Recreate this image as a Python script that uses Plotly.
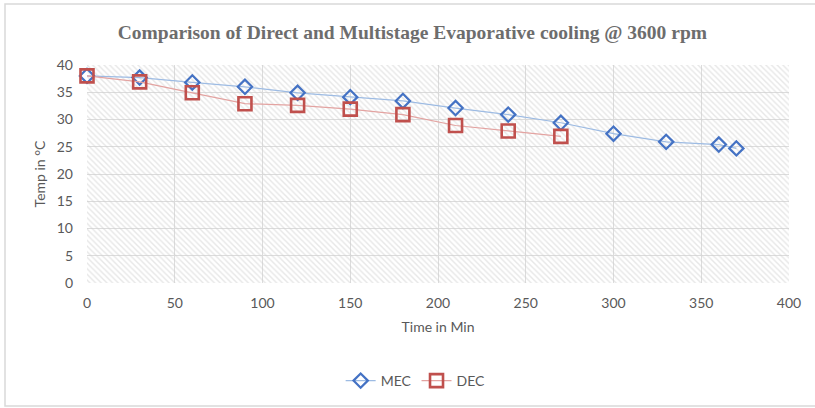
import plotly.graph_objects as go

# Time (min) and temperature (°C) readings
mec_time = [0, 30, 60, 90, 120, 150, 180, 210, 240, 270, 300, 330, 360, 370]
mec_temp = [38, 37.7, 36.8, 36.0, 34.9, 34.1, 33.4, 32.1, 30.9, 29.4, 27.4, 25.9, 25.4, 24.7]

dec_time = [0, 30, 60, 90, 120, 150, 180, 210, 240, 270]
dec_temp = [38, 36.9, 34.9, 32.9, 32.6, 31.9, 30.9, 28.9, 27.9, 26.9]

x_range = [0, 400]
y_range = [0, 40]

W, H = 815, 408
ML, MR, MT, MB = 87, 26, 65, 125
pw = W - ML - MR
ph = H - MT - MB


def px_to_paper_x(px):
    return (px - ML) / pw


def px_to_paper_y(py):
    return (H - MB - py) / ph


fig = go.Figure()

# hatched plot-area background
fig.add_trace(go.Scatter(
    x=[x_range[0], x_range[1], x_range[1], x_range[0], x_range[0]],
    y=[y_range[0], y_range[0], y_range[1], y_range[1], y_range[0]],
    mode="lines", fill="toself", line=dict(width=0),
    fillcolor="rgba(0,0,0,0)",
    fillpattern=dict(shape="\\", fgcolor="#cfcfcf", bgcolor="rgba(0,0,0,0)",
                     size=4, solidity=0.35),
    hoverinfo="skip", showlegend=False,
))

fig.add_trace(go.Scatter(
    x=mec_time, y=mec_temp, name="MEC", mode="lines+markers",
    line=dict(color="#9dbbe3", width=1.2),
    marker=dict(symbol="diamond-open", size=11, color="#4472C4",
                line=dict(width=2.2, color="#4472C4")),
    cliponaxis=False,
))
fig.add_trace(go.Scatter(
    x=dec_time, y=dec_temp, name="DEC", mode="lines+markers",
    line=dict(color="#e3a3a1", width=1.2),
    marker=dict(symbol="square-open", size=13, color="#C0504D",
                line=dict(width=2.6, color="#C0504D")),
    cliponaxis=False,
))

# chart frame (left, top and bottom edges; right edge lies outside the view)
fig.add_shape(
    type="rect", xref="paper", yref="paper",
    x0=px_to_paper_x(5), x1=px_to_paper_x(W + 5),
    y0=px_to_paper_y(406), y1=px_to_paper_y(4),
    line=dict(color="#d9d9d9", width=1.5), layer="below",
)

tick_font = dict(family="Lato, 'Open Sans', sans-serif", size=14, color="#595959")

fig.update_layout(
    width=W, height=H,
    margin=dict(l=ML, r=MR, t=MT, b=MB),
    paper_bgcolor="white", plot_bgcolor="white",
    title=dict(
        text="<b>Comparison of Direct and Multistage Evaporative cooling @ 3600 rpm</b>",
        font=dict(family="Liberation Serif, 'DejaVu Serif', serif", size=19.5, color="#6d6d6d"),
        x=0.506, xanchor="center", xref="container",
        y=1 - 32 / H, yanchor="middle", yref="container",
    ),
    xaxis=dict(
        range=x_range, dtick=50, showgrid=True, gridcolor="#dcdcdc", gridwidth=1,
        zeroline=False, showline=False, tickfont=tick_font, ticks="",
        ticklabelstandoff=10,
        title=dict(text="Time in Min", font=tick_font, standoff=12),
    ),
    yaxis=dict(
        range=y_range, dtick=5, showgrid=True, gridcolor="#dcdcdc", gridwidth=1,
        zeroline=False, showline=False, tickfont=tick_font, ticks="",
        ticklabelstandoff=13,
        title=dict(text="Temp in °C", font=tick_font, standoff=7),
    ),
    legend=dict(
        orientation="h", x=0.51, xanchor="center", xref="container",
        y=1 - 381 / H, yanchor="middle", yref="container",
        font=tick_font, bgcolor="rgba(0,0,0,0)",
    ),
    showlegend=True,
)

fig.write_html("out.html")
